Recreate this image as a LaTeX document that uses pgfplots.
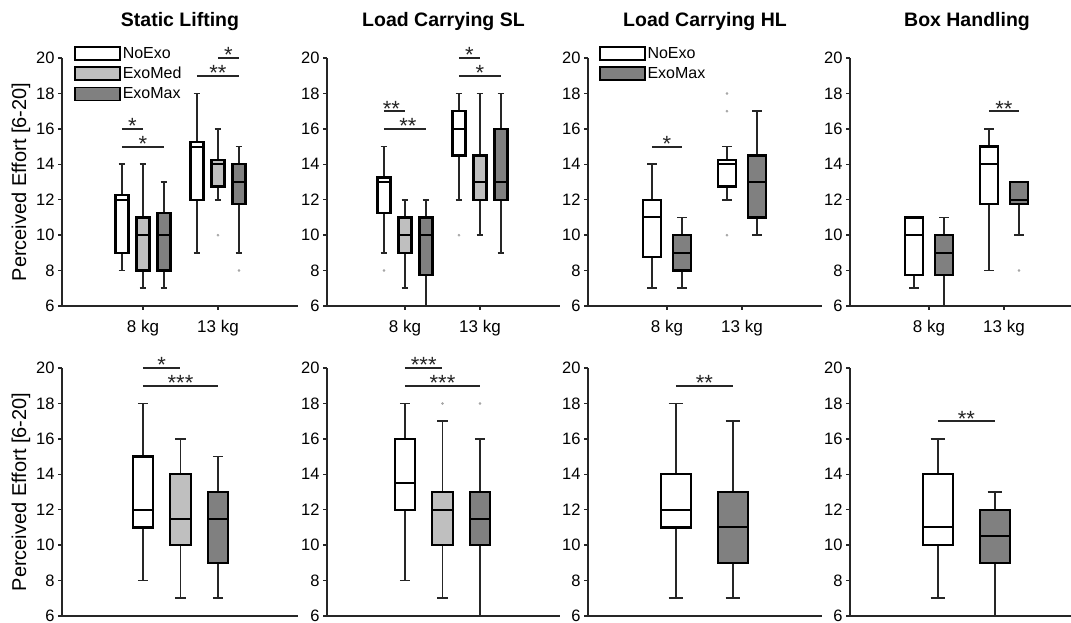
\documentclass[border=0pt]{standalone}
\usepackage{fontspec}
\setmainfont{Liberation Sans}
\usepackage{pgfplots}
\pgfplotsset{compat=1.18}
\usepgfplotslibrary{statistics}

\definecolor{cmed}{gray}{0.75}
\definecolor{cmax}{gray}{0.5}
\definecolor{lnc}{gray}{0.15}

% #1 pos, #2 box width, #3 fill, #4 lw, #5 q1, #6 med, #7 q3, #8 uw
\newcommand{\bx}[8]{\addplot[forget plot, draw=black, line width=2pt,
  boxplot prepared={draw position=#1, box extend=#2, whisker extend=#2*0.5,
   lower whisker=#4, lower quartile=#5, median=#6, upper quartile=#7, upper whisker=#8,
   every box/.style={draw=black, line width=2.2pt, fill=#3},
   every whisker/.style={line width=1.8pt, draw=lnc},
   every median/.style={line width=2pt, draw=black}}] coordinates {};}
\newcommand{\outl}[1]{\addplot[forget plot, only marks, mark=*, mark size=1.1pt, color=black!35] coordinates {#1};}
\newcommand{\sig}[5][0pt]{\addplot[forget plot, line width=2pt, lnc] coordinates {(#2,#4) (#3,#4)}
  node[pos=0.5, anchor=base, inner sep=0pt, yshift=-5pt, xshift=#1, font=\fontsize{22}{22}\selectfont] {#5};}

\pgfplotsset{
  panel/.style={scale only axis, height=248pt, ymin=6, ymax=20, ytick={6,8,...,20},
    boxplot/draw direction=y,
    xmax=3.067, axis lines=left, axis line style={-, line width=2pt, lnc},
    tick align=outside, major tick length=4pt, tick style={line width=1.5pt, lnc},
    ticklabel style={font=\fontsize{16.5}{16.5}\selectfont},
    /pgf/number format/assume math mode=true, clip=false,
    title style={at={(0.5,1)}, anchor=center, yshift=30pt, font=\bfseries\fontsize{19.5}{19.5}\selectfont},
    ylabel style={at={(axis description cs:-0.174,0.5)}, anchor=center, font=\fontsize{20}{20}\selectfont},
  },
  toprow/.style={panel, xtick={1,2}, xticklabels={8 kg,13 kg}, xticklabel style={yshift=-7pt, font=\fontsize{17}{17}\selectfont}},
  botrow/.style={panel, xtick=\empty},
  leg/.style={legend cell align=left, legend style={draw=none, fill=none, inner sep=0pt, row sep=3.5pt,
    font=\fontsize{16}{16}\selectfont, nodes={inner sep=2pt}}},
  limg/.style={legend image code/.code={\draw[line width=1.8pt, draw=black, fill=#1] (0pt,-6.5pt) rectangle (45pt,6.5pt);}},
}

\begin{document}
\begin{tikzpicture}
\useasboundingbox (0pt,0pt) rectangle (1071pt,623pt);

% ---------------- Top row ----------------
\begin{axis}[toprow, at={(62pt,317pt)}, anchor=south west, width=236pt, xmin=-0.08,
  title={Static Lifting}, ylabel={Perceived Effort [6-20]}, leg,
  legend style={at={(axis description cs:0.05,1.053)}, anchor=north west}]
\addlegendimage{limg=white}\addlegendentry{NoExo}
\addlegendimage{limg=cmed}\addlegendentry{ExoMed}
\addlegendimage{limg=cmax}\addlegendentry{ExoMax}
\bx{0.72}{0.175}{white}{8}{9}{12}{12.25}{14}
\bx{1.00}{0.175}{cmed}{7}{8}{10}{11}{14}
\bx{1.28}{0.175}{cmax}{7}{8}{10}{11.25}{13}
\bx{1.72}{0.175}{white}{9}{12}{15}{15.25}{18}
\bx{2.00}{0.175}{cmed}{12}{12.75}{14}{14.25}{16}
\bx{2.28}{0.175}{cmax}{9}{11.75}{13}{14}{15}
\outl{(2.00,10)}
\outl{(2.28,8)}
\sig{0.72}{1.00}{16}{*}
\sig{0.72}{1.28}{15}{*}
\sig{1.72}{2.28}{19}{**}
\sig{2.00}{2.28}{20}{*}
\end{axis}

\begin{axis}[toprow, at={(327pt,317pt)}, anchor=south west, width=233pt, xmin=-0.04,
  title={Load Carrying SL}]
\bx{0.72}{0.175}{white}{9}{11.25}{13}{13.25}{15}
\bx{1.00}{0.175}{cmed}{7}{9}{10}{11}{12}
\bx{1.28}{0.175}{cmax}{6}{7.75}{10}{11}{12}
\bx{1.72}{0.175}{white}{12}{14.5}{16}{17}{18}
\bx{2.00}{0.175}{cmed}{10}{12}{13}{14.5}{18}
\bx{2.28}{0.175}{cmax}{9}{12}{13}{16}{18}
\outl{(0.72,8)}
\outl{(1.72,10)}
\sig[-3pt]{0.72}{1.00}{17}{**}
\sig[3pt]{0.72}{1.28}{16}{**}
\sig{1.72}{2.00}{20}{*}
\sig{1.72}{2.28}{19}{*}
\end{axis}

\begin{axis}[toprow, at={(588pt,317pt)}, anchor=south west, width=234pt, xmin=-0.053,
  title={Load Carrying HL}, leg,
  legend style={at={(axis description cs:0.045,1.053)}, anchor=north west}]
\addlegendimage{limg=white}\addlegendentry{NoExo}
\addlegendimage{limg=cmax}\addlegendentry{ExoMax}
\bx{0.80}{0.25}{white}{7}{8.75}{11}{12}{14}
\bx{1.20}{0.25}{cmax}{7}{8}{9}{10}{11}
\bx{1.80}{0.25}{white}{12}{12.75}{14}{14.25}{15}
\bx{2.20}{0.25}{cmax}{10}{11}{13}{14.5}{17}
\outl{(1.80,18) (1.80,17) (1.80,10)}
\sig{0.80}{1.20}{15}{*}
\end{axis}

\begin{axis}[toprow, at={(850pt,317pt)}, anchor=south west, width=234pt, xmin=-0.053,
  title={Box Handling}]
\bx{0.80}{0.25}{white}{7}{7.75}{10}{11}{11}
\bx{1.20}{0.25}{cmax}{6}{7.75}{9}{10}{11}
\bx{1.80}{0.25}{white}{8}{11.75}{14}{15}{16}
\bx{2.20}{0.25}{cmax}{10}{11.75}{12}{13}{13}
\outl{(2.20,8)}
\sig{1.80}{2.20}{17}{**}
\end{axis}

% ---------------- Bottom row ----------------
\begin{axis}[botrow, at={(62pt,7pt)}, anchor=south west, width=236pt, xmin=-0.08,
  ylabel={Perceived Effort [6-20]}]
\bx{1.0}{0.27}{white}{8}{11}{12}{15}{18}
\bx{1.5}{0.27}{cmed}{7}{10}{11.5}{14}{16}
\bx{2.0}{0.27}{cmax}{7}{9}{11.5}{13}{15}
\sig{1.0}{1.5}{20}{*}
\sig{1.0}{2.0}{19}{***}
\end{axis}

\begin{axis}[botrow, at={(327pt,7pt)}, anchor=south west, width=233pt, xmin=-0.04]
\bx{1.0}{0.27}{white}{8}{12}{13.5}{16}{18}
\bx{1.5}{0.27}{cmed}{7}{10}{12}{13}{17}
\bx{2.0}{0.27}{cmax}{6}{10}{11.5}{13}{16}
\outl{(1.5,18)}
\outl{(2.0,18)}
\sig{1.0}{1.5}{20}{***}
\sig{1.0}{2.0}{19}{***}
\end{axis}

\begin{axis}[botrow, at={(588pt,7pt)}, anchor=south west, width=234pt, xmin=-0.053]
\bx{1.12}{0.39}{white}{7}{11}{12}{14}{18}
\bx{1.88}{0.39}{cmax}{7}{9}{11}{13}{17}
\sig{1.12}{1.88}{19}{**}
\end{axis}

\begin{axis}[botrow, at={(850pt,7pt)}, anchor=south west, width=234pt, xmin=-0.053]
\bx{1.12}{0.39}{white}{7}{10}{11}{14}{16}
\bx{1.88}{0.39}{cmax}{6}{9}{10.5}{12}{13}
\sig{1.12}{1.88}{17}{**}
\end{axis}
\end{tikzpicture}
\end{document}
